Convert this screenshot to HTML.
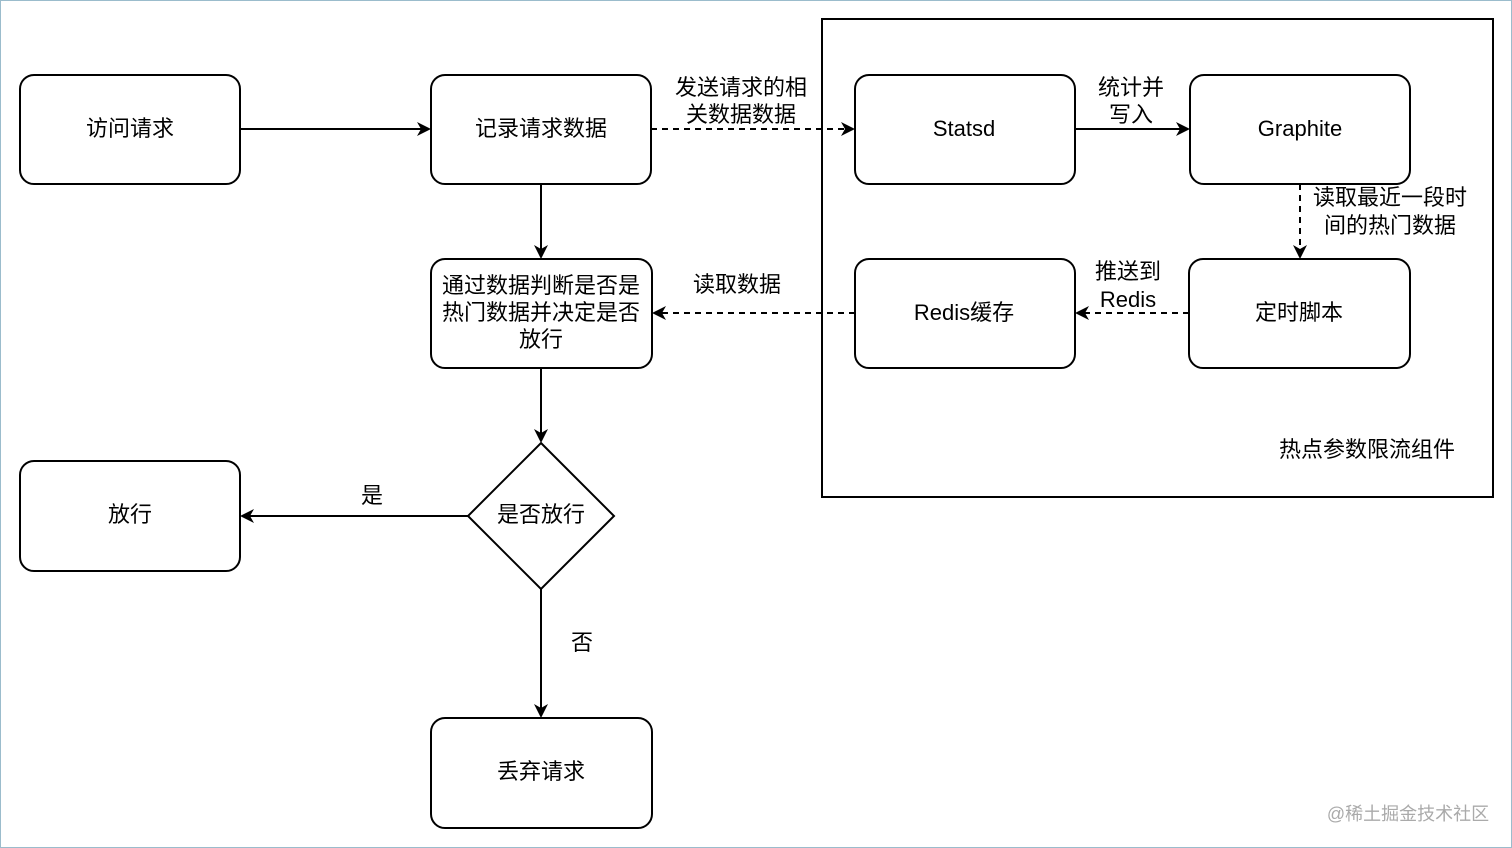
<!DOCTYPE html>
<html><head><meta charset="utf-8"><style>
html,body{margin:0;padding:0;background:#fff}
svg{display:block}
text{font-family:"Liberation Sans","Noto Sans CJK SC",sans-serif;font-size:22px;fill:#000}
</style></head><body>
<svg width="1512" height="848" viewBox="0 0 1512 848" xmlns="http://www.w3.org/2000/svg">
<defs><marker id="a" markerWidth="14" markerHeight="14" refX="12" refY="7" orient="auto" markerUnits="userSpaceOnUse"><path d="M0,0 L14,7 L0,14 L4,7 Z" fill="#000"/></marker></defs>
<rect x="0.5" y="0.5" width="1511" height="847" fill="#fff" stroke="#9bbccc"/>
<rect x="822" y="19" width="671" height="478" fill="none" stroke="#000" stroke-width="2"/>
<g fill="#fff" stroke="#000" stroke-width="2">
<rect x="20" y="75" width="220" height="109" rx="14"/>
<rect x="431" y="75" width="220" height="109" rx="14"/>
<rect x="855" y="75" width="220" height="109" rx="14"/>
<rect x="1190" y="75" width="220" height="109" rx="14"/>
<rect x="431" y="259" width="221" height="109" rx="14"/>
<rect x="855" y="259" width="220" height="109" rx="14"/>
<rect x="1189" y="259" width="221" height="109" rx="14"/>
<rect x="20" y="461" width="220" height="110" rx="14"/>
<rect x="431" y="718" width="221" height="110" rx="14"/>
<path d="M541,443 L614,516 L541,589 L468,516 Z"/>
</g>
<g stroke="#000" stroke-width="2" fill="none" marker-end="url(#a)">
<path d="M240,129 H429"/>
<path d="M651,129 H853" stroke-dasharray="6,5"/>
<path d="M1075,129 H1188"/>
<path d="M1300,184 V257" stroke-dasharray="6,5"/>
<path d="M1189,313 H1077" stroke-dasharray="6,5"/>
<path d="M855,313 H654" stroke-dasharray="6,5"/>
<path d="M541,184 V257"/>
<path d="M541,368 V441"/>
<path d="M468,516 H242"/>
<path d="M541,589 V716"/>
</g>
<g text-anchor="middle">
<text x="541" y="136">记录请求数据</text>
<text x="130" y="136">访问请求</text>
<text x="964" y="136">Statsd</text>
<text x="1300" y="136">Graphite</text>
<text x="541" y="293">通过数据判断是否是</text>
<text x="541" y="320">热门数据并决定是否</text>
<text x="541" y="347">放行</text>
<text x="964" y="320">Redis缓存</text>
<text x="1299" y="320">定时脚本</text>
<text x="130" y="522">放行</text>
<text x="541" y="522">是否放行</text>
<text x="541" y="779">丢弃请求</text>
<text x="741" y="95">发送请求的相</text>
<text x="741" y="122">关数据数据</text>
<text x="1131" y="95">统计并</text>
<text x="1131" y="122">写入</text>
<text x="1390" y="205">读取最近一段时</text>
<text x="1390" y="233">间的热门数据</text>
<text x="1128" y="279">推送到</text>
<text x="1128" y="307">Redis</text>
<text x="737" y="292">读取数据</text>
<text x="372" y="503">是</text>
<text x="582" y="650">否</text>
<text x="1367" y="457">热点参数限流组件</text>
<text x="1408" y="820" style="font-size:18px;fill:#aaa">@稀土掘金技术社区</text>
</g>
</svg>
</body></html>
